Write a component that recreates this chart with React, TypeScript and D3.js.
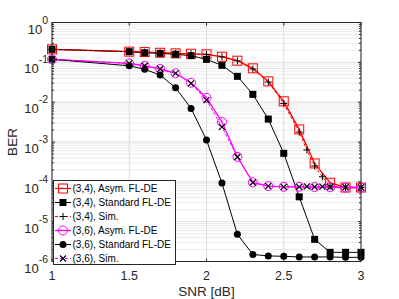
import React from "react";
import * as d3 from "d3";

const snr = [1, 1.5, 1.6, 1.7, 1.8, 1.9, 2.0, 2.1, 2.2, 2.3, 2.4, 2.5, 2.6, 2.7, 2.8, 2.9, 3.0];
const snrSim = [1, 1.5, 1.6, 1.7, 1.8, 1.9, 2.0, 2.1, 2.2, 2.3, 2.4, 2.5, 2.6, 2.65, 2.7, 2.75, 2.8, 2.9, 3.0];

const asym34 = [0.212, 0.185, 0.181, 0.174, 0.168, 0.164, 0.159, 0.138, 0.11, 0.0707, 0.0333, 0.0105, 0.00207, 2.9e-4, 9.5e-5, 7.2e-5, 7.2e-5];
const std34 = [0.212, 0.185, 0.174, 0.168, 0.159, 0.147, 0.119, 0.084, 0.0445, 0.0157, 0.00376, 5.2e-4, 4.2e-5, 3.6e-6, 1.7e-6, 1.7e-6, 1.7e-6];
const sim34 = [0.212, 0.185, 0.181, 0.174, 0.168, 0.164, 0.158, 0.137, 0.109, 0.068, 0.032, 0.0093, 0.00177, 6.3e-4, 2.5e-4, 1.34e-4, 7.8e-5, 7.2e-5, 7.2e-5];
const asym36 = [0.119, 0.094, 0.082, 0.068, 0.053, 0.0307, 0.0129, 0.00316, 4.25e-4, 9.7e-5, 7.8e-5, 7.5e-5, 7.5e-5, 7.4e-5, 7.3e-5, 7.2e-5, 7.2e-5];
const std36 = [0.119, 0.082, 0.0667, 0.048, 0.023, 0.00698, 0.00112, 9.3e-5, 4.8e-6, 1.5e-6, 1.38e-6, 1.35e-6, 1.3e-6, 1.3e-6, 1.3e-6, 1.27e-6, 1.27e-6];
const sim36 = [0.119, 0.094, 0.082, 0.068, 0.053, 0.0297, 0.0113, 0.0024, 4.2e-4, 9.6e-5, 7.8e-5, 7.5e-5, 7.5e-5, 7.7e-5, 7.5e-5, 7.6e-5, 7.4e-5, 7.3e-5, 7.2e-5];

const xTicks = [1, 1.5, 2, 2.5, 3];
const yExps = [0, -1, -2, -3, -4, -5, -6];

const font = "'Liberation Sans', Arial, sans-serif";
const axisColor = "#262626";

type Kind = "sqOpen" | "sqFill" | "plus" | "circOpen" | "circFill" | "cross";

const series = [
  { name: "(3,4), Asym. FL-DE", xs: snr, ys: asym34, color: "#ff0000", width: 1.3, dash: "", marker: "sqOpen" as Kind },
  { name: "(3,4), Standard FL-DE", xs: snr, ys: std34, color: "#000000", width: 1, dash: "", marker: "sqFill" as Kind },
  { name: "(3,4), Sim.", xs: snrSim, ys: sim34, color: "#ff0000", width: 1, dash: "3,2", marker: "plus" as Kind },
  { name: "(3,6), Asym. FL-DE", xs: snr, ys: asym36, color: "#ff00ff", width: 1.3, dash: "", marker: "circOpen" as Kind },
  { name: "(3,6), Standard FL-DE", xs: snr, ys: std36, color: "#000000", width: 1, dash: "", marker: "circFill" as Kind },
  { name: "(3,6), Sim.", xs: snrSim, ys: sim36, color: "#ff00ff", width: 1, dash: "3,2", marker: "cross" as Kind },
];

const Marker = ({ kind, cx, cy, color }: { kind: Kind; cx: number; cy: number; color: string }) => {
  switch (kind) {
    case "sqOpen":
      return <rect x={cx - 4.5} y={cy - 4.5} width={9} height={9} fill="none" stroke={color} strokeWidth={1} />;
    case "sqFill":
      return <rect x={cx - 3.5} y={cy - 3.5} width={7} height={7} fill="#000" />;
    case "plus":
      return <path d={`M${cx - 3.5},${cy}H${cx + 3.5}M${cx},${cy - 3.5}V${cy + 3.5}`} stroke="#000" strokeWidth={1} />;
    case "circOpen":
      return <circle cx={cx} cy={cy} r={4.5} fill="none" stroke={color} strokeWidth={1} />;
    case "circFill":
      return <circle cx={cx} cy={cy} r={3.5} fill="#000" />;
    case "cross":
      return <path d={`M${cx - 3},${cy - 3}L${cx + 3},${cy + 3}M${cx - 3},${cy + 3}L${cx + 3},${cy - 3}`} stroke="#000" strokeWidth={1.2} />;
  }
};

export default function App() {
  const left = 52, right = 361, top = 22.5, bottom = 261.5;
  const x = d3.scaleLinear().domain([1, 3]).range([left, right]);
  const y = d3.scaleLog().domain([1e-6, 1]).range([bottom, top]);

  const minor: number[] = [];
  for (let e = -6; e < 0; e++) for (let m = 2; m <= 9; m++) minor.push(m * Math.pow(10, e));

  const line = (xs: number[], ys: number[]) =>
    d3.line<number>().x((_, i) => x(xs[i])).y((v) => y(v))(ys) || "";

  const legX = 53.5, legY = 180.5, legW = 122, legH = 84, rowH = 14;

  return (
    <svg width={399} height={299} style={{ position: "absolute", left: 0, top: 0, background: "#fff" }} fontFamily={font}>
      <rect x={0} y={0} width={399} height={299} fill="#fff" />
      {/* grid */}
      {minor.map((v, i) => (
        <line key={"mg" + i} x1={left} x2={right} y1={y(v)} y2={y(v)} stroke="#ebebeb" strokeWidth={1} />
      ))}
      {yExps.map((e) => (
        <line key={"yg" + e} x1={left} x2={right} y1={y(Math.pow(10, e))} y2={y(Math.pow(10, e))} stroke="#dcdcdc" />
      ))}
      {xTicks.map((t) => (
        <line key={"xg" + t} x1={x(t)} x2={x(t)} y1={top} y2={bottom} stroke="#dcdcdc" />
      ))}

      {/* series */}
      {series.map((s) => (
        <g key={s.name}>
          <path d={line(s.xs, s.ys)} fill="none" stroke={s.color} strokeWidth={s.width} strokeDasharray={s.dash || undefined} />
          {s.ys.map((v, i) => (
            <Marker key={i} kind={s.marker} cx={x(s.xs[i])} cy={y(v)} color={s.color} />
          ))}
        </g>
      ))}

      {/* axes box and ticks */}
      <rect x={left} y={top} width={right - left} height={bottom - top} fill="none" stroke={axisColor} strokeWidth={1} />
      {xTicks.map((t) => (
        <g key={"xt" + t}>
          <line x1={x(t)} x2={x(t)} y1={bottom} y2={bottom - 3} stroke={axisColor} />
          <line x1={x(t)} x2={x(t)} y1={top} y2={top + 3} stroke={axisColor} />
          <text x={x(t)} y={280} fontSize={12.5} textAnchor="middle" fill={axisColor}>{t}</text>
        </g>
      ))}
      {minor.map((v, i) => (
        <g key={"mt" + i}>
          <line x1={left} x2={left + 2} y1={y(v)} y2={y(v)} stroke={axisColor} />
          <line x1={right} x2={right - 2} y1={y(v)} y2={y(v)} stroke={axisColor} />
        </g>
      ))}
      {yExps.map((e) => (
        <g key={"yt" + e}>
          <line x1={left} x2={left + 3} y1={y(Math.pow(10, e))} y2={y(Math.pow(10, e))} stroke={axisColor} />
          <line x1={right} x2={right - 3} y1={y(Math.pow(10, e))} y2={y(Math.pow(10, e))} stroke={axisColor} />
          <text x={48} y={y(Math.pow(10, e)) + 11} fontSize={13} textAnchor="end" fill={axisColor}>
            10<tspan dy={-10} fontSize={10.5}>{e}</tspan>
          </text>
        </g>
      ))}

      <text x={206.5} y={296} fontSize={13.5} textAnchor="middle" fill={axisColor}>SNR [dB]</text>
      <text transform={`translate(16.5,${(top + bottom) / 2}) rotate(-90)`} fontSize={13.5} textAnchor="middle" fill={axisColor}>BER</text>

      {/* legend */}
      <rect x={legX} y={legY} width={legW} height={legH} fill="#fff" stroke={axisColor} strokeWidth={1} />
      {series.map((s, i) => {
        const cy = legY + 8 + i * rowH;
        return (
          <g key={"lg" + i}>
            <line x1={55} x2={71} y1={cy} y2={cy} stroke={s.color} strokeWidth={s.width} strokeDasharray={s.dash || undefined} />
            <Marker kind={s.marker} cx={63} cy={cy} color={s.color} />
            <text x={72.5} y={cy + 3.6} fontSize={10} fill="#000">{s.name}</text>
          </g>
        );
      })}
    </svg>
  );
}
